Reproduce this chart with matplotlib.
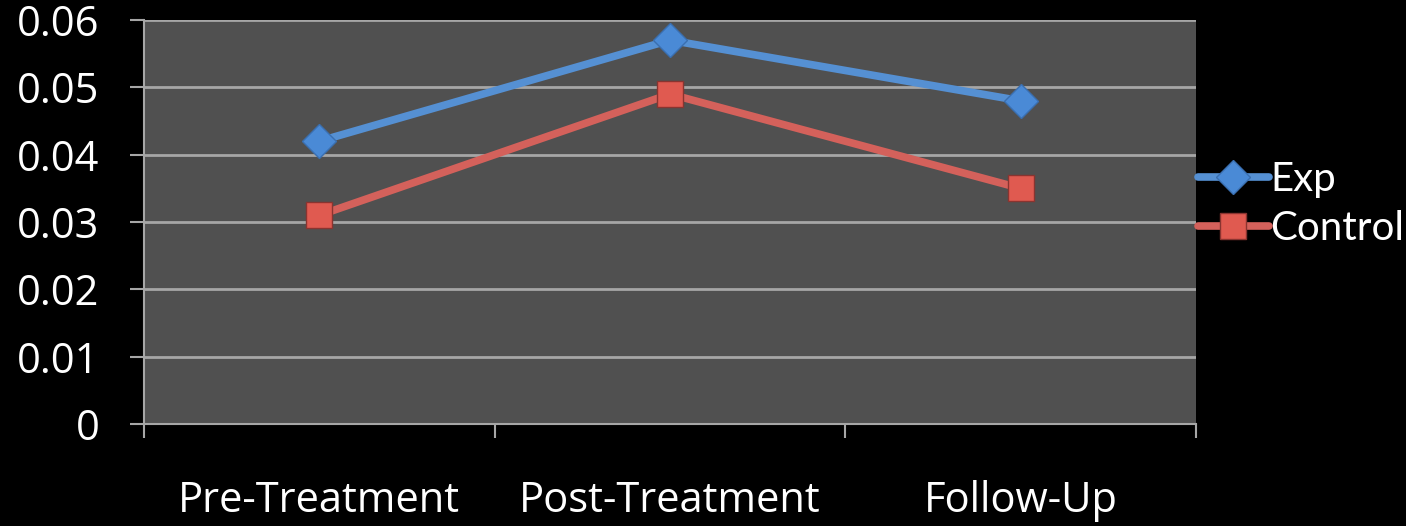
import matplotlib.pyplot as plt

# study phases and mean scores per group
phases = ["Pre-Treatment", "Post-Treatment", "Follow-Up"]
exp_scores = [0.042, 0.057, 0.048]
control_scores = [0.031, 0.049, 0.035]
y_ticks = [0, 0.01, 0.02, 0.03, 0.04, 0.05, 0.06]
y_tick_labels = ["0", "0.01", "0.02", "0.03", "0.04", "0.05", "0.06"]

plt.rcParams["font.family"] = ["Open Sans", "DejaVu Sans"]

fig = plt.figure(figsize=(14.06, 5.26), dpi=100, facecolor="black")
ax = fig.add_axes([0.1024, 0.1939, 0.7482, 0.7681], facecolor="#505050")

grid_col = "#a6a6a6"
x = range(len(phases))
ax.plot(x, exp_scores, color="#5590d3", lw=5.5, marker="D", ms=17,
        mfc="#4a8ad6", mec="#3a6fb0", mew=1, label="Exp", solid_capstyle="round", zorder=3)
ax.plot(x, control_scores, color="#d4615b", lw=5.5, marker="s", ms=19,
        mfc="#e05a50", mec="#8a3430", mew=1, label="Control", solid_capstyle="round", zorder=3)

ax.set_xlim(-0.5, 2.5)
ax.set_ylim(0, 0.06)
ax.set_yticks(y_ticks)
ax.set_yticklabels(y_tick_labels)
ax.yaxis.grid(True, color=grid_col, lw=2)
ax.set_axisbelow(True)

# category ticks sit between the phases, labels in the middle
ax.set_xticks([-0.5, 0.5, 1.5, 2.5])
ax.set_xticklabels([])
ax.set_xticks(list(x), minor=True)
ax.set_xticklabels(phases, minor=True)
ax.tick_params(axis="x", which="major", length=10, width=1.5, color=grid_col)
ax.tick_params(axis="x", which="minor", length=0, pad=40, labelsize=30, labelcolor="white")
ax.tick_params(axis="y", length=10, width=1.5, color=grid_col, pad=22,
               labelsize=30, labelcolor="white")

for side in ["top", "right"]:
    ax.spines[side].set_visible(False)
for side in ["left", "bottom"]:
    ax.spines[side].set_color(grid_col)
    ax.spines[side].set_linewidth(1.5)

leg = ax.legend(loc="center left", bbox_to_anchor=(1.002, 0.545), frameon=False,
                prop={"family": "Lato", "size": 29}, handlelength=1.75,
                handletextpad=0.05, labelspacing=0.3, borderaxespad=0, borderpad=0)
for t in leg.get_texts():
    t.set_color("white")

fig.savefig("out.png", dpi=100, facecolor="black")
